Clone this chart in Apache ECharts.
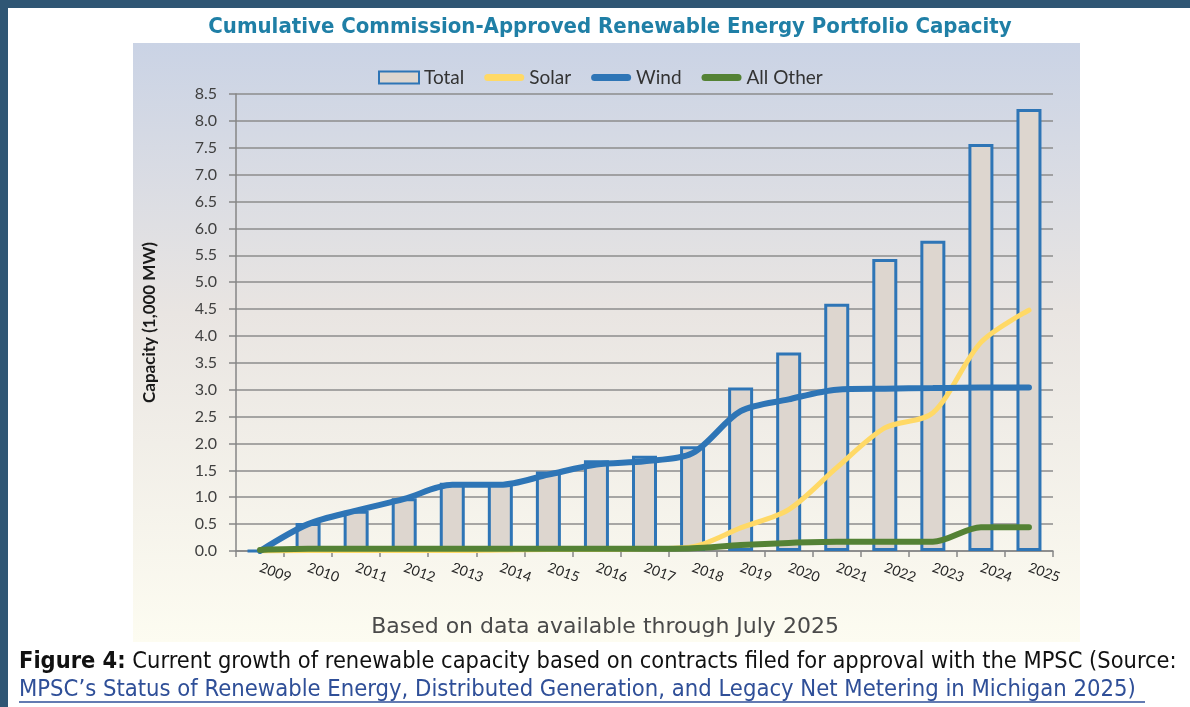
<!DOCTYPE html>
<html>
<head>
<meta charset="utf-8">
<style>
  html, body { margin: 0; padding: 0; background: #fff; }
  #chart { width: 1190px; height: 707px; }
</style>
<script src="https://cdn.jsdelivr.net/npm/echarts@6/dist/echarts.min.js"></script>
</head>
<body>
<div id="chart"></div>
<script>
// capacity in 1,000 MW
const years = ['2009', '2010', '2011', '2012', '2013', '2014', '2015', '2016', '2017',
               '2018', '2019', '2020', '2021', '2022', '2023', '2024', '2025']
const total    = [0, 0.52, 0.75, 0.98, 1.27, 1.26, 1.48, 1.69, 1.77, 1.95, 3.04, 3.69, 4.60, 5.43, 5.77, 7.57, 8.22]
const solar    = [0, 0.01, 0.01, 0.01, 0.01, 0.02, 0.03, 0.03, 0.04, 0.08, 0.43, 0.77, 1.55, 2.29, 2.57, 3.88, 4.48]
const wind     = [0, 0.50, 0.75, 0.97, 1.23, 1.23, 1.42, 1.61, 1.67, 1.82, 2.60, 2.82, 3.00, 3.02, 3.03, 3.04, 3.04]
const allOther = [0.02, 0.04, 0.04, 0.04, 0.04, 0.04, 0.04, 0.04, 0.04, 0.05, 0.11, 0.15, 0.17, 0.17, 0.17, 0.44, 0.44]

const blue = '#2e75b6'
const yellow = '#ffd966'
const green = '#548235'
const bodyFont = 'Lato, "Noto Sans", sans-serif'
const condFont = '"DejaVu Sans Condensed", "Liberation Sans Narrow", Roboto, sans-serif'
// thick rounded stroke used for the line entries of the legend
const lineIcon = 'path://M3.5,0 H36.5 A3.5,3.5 0 0 1 36.5,7 H3.5 A3.5,3.5 0 0 1 3.5,0 Z'

let chart = echarts.init(document.getElementById('chart'))

chart.setOption({
    animation: false,
    graphic: [
        { type: 'rect', z: -10, shape: { x: 0, y: 0, width: 1190, height: 8 }, style: { fill: '#2f5674' } },
        { type: 'rect', z: -10, shape: { x: 0, y: 0, width: 8, height: 707 }, style: { fill: '#2f5674' } },
        {
            type: 'rect', z: -10,
            shape: { x: 133, y: 43, width: 947, height: 599 },
            style: {
                fill: new echarts.graphic.LinearGradient(0, 0, 0, 1, [
                    { offset: 0, color: '#cad3e5' },
                    { offset: 0.45, color: '#e9e5e2' },
                    { offset: 1, color: '#fdfcf1' },
                ]),
            },
        },
        {
            type: 'text', x: 610, y: 27,
            style: {
                text: 'Cumulative Commission-Approved Renewable Energy Portfolio Capacity',
                align: 'center', verticalAlign: 'middle',
                font: 'bold 22px ' + condFont,
                fill: '#1f7fa6',
            },
        },
        {
            type: 'text', x: 605, y: 627,
            style: {
                text: 'Based on data available through July 2025',
                align: 'center', verticalAlign: 'middle',
                font: '22px "DejaVu Sans", sans-serif',
                fill: '#4a4a4a',
            },
        },
        {
            type: 'text', x: 19, y: 662,
            style: {
                text: '{b|Figure 4:} Current growth of renewable capacity based on contracts filed for approval with the MPSC (Source:',
                verticalAlign: 'middle',
                font: '23.4px ' + condFont,
                fill: '#111',
                rich: { b: { fontWeight: 'bold', fontSize: 23.4, fontFamily: condFont, fill: '#111' } },
            },
        },
        {
            type: 'text', x: 19, y: 690,
            style: {
                text: 'MPSC\u2019s Status of Renewable Energy, Distributed Generation, and Legacy Net Metering in Michigan 2025)',
                verticalAlign: 'middle',
                font: '23.6px ' + condFont,
                fill: '#2f4f98',
            },
        },
        { type: 'line', shape: { x1: 19, y1: 702, x2: 1145, y2: 702 }, style: { stroke: '#2f4f98', lineWidth: 1.5 } },
    ],
    legend: {
        left: 373,
        top: 63,
        itemWidth: 40,
        itemHeight: 12,
        itemGap: 20,
        textStyle: { fontSize: 19, color: '#333', fontFamily: bodyFont },
        data: [
            { name: 'Total', icon: 'rect', itemStyle: { color: '#ddd6cf', borderColor: blue, borderWidth: 2 } },
            { name: 'Solar', icon: lineIcon, itemStyle: { color: yellow } },
            { name: 'Wind', icon: lineIcon, itemStyle: { color: blue } },
            { name: 'All Other', icon: lineIcon, itemStyle: { color: green } },
        ],
    },
    grid: { left: 236, right: 137, top: 94, bottom: 156 },
    xAxis: {
        type: 'category',
        data: years,
        axisLine: { lineStyle: { color: '#868686', width: 1.5 } },
        axisTick: { show: true, length: 6, lineStyle: { color: '#868686', width: 1.5 } },
        axisLabel: { rotate: -20, margin: 16, fontSize: 14, color: '#262626', fontFamily: bodyFont },
    },
    yAxis: {
        type: 'value',
        min: 0,
        max: 8.5,
        interval: 0.5,
        name: 'Capacity (1,000 MW)',
        nameLocation: 'middle',
        nameGap: 78,
        nameRotate: 90,
        nameTextStyle: { fontSize: 17, fontWeight: 'bold', color: '#1a1a1a', fontFamily: bodyFont },
        axisLine: { show: true, lineStyle: { color: '#868686', width: 1.5 } },
        axisTick: { show: true, length: 7, lineStyle: { color: '#868686', width: 1.5 } },
        axisLabel: {
            margin: 19, fontSize: 16, color: '#404040', fontFamily: bodyFont,
            formatter: v => v.toFixed(1),
        },
        splitLine: { lineStyle: { color: '#8c8c8c', width: 1.5 } },
    },
    series: [
        {
            name: 'Total',
            type: 'bar',
            barWidth: 25,
            itemStyle: { color: '#ddd6cf', borderColor: blue, borderWidth: 3 },
            data: total,
        },
        {
            name: 'Solar',
            type: 'line',
            smooth: 0.3,
            symbol: 'none',
            itemStyle: { color: yellow },
            lineStyle: { color: yellow, width: 5, cap: 'round' },
            data: solar,
        },
        {
            name: 'Wind',
            type: 'line',
            smooth: 0.3,
            symbol: 'none',
            itemStyle: { color: blue },
            lineStyle: { color: blue, width: 6, cap: 'round' },
            data: wind,
        },
        {
            name: 'All Other',
            type: 'line',
            smooth: 0.3,
            symbol: 'none',
            itemStyle: { color: green },
            lineStyle: { color: green, width: 6, cap: 'round' },
            data: allOther,
        },
    ],
})
</script>
</body>
</html>
